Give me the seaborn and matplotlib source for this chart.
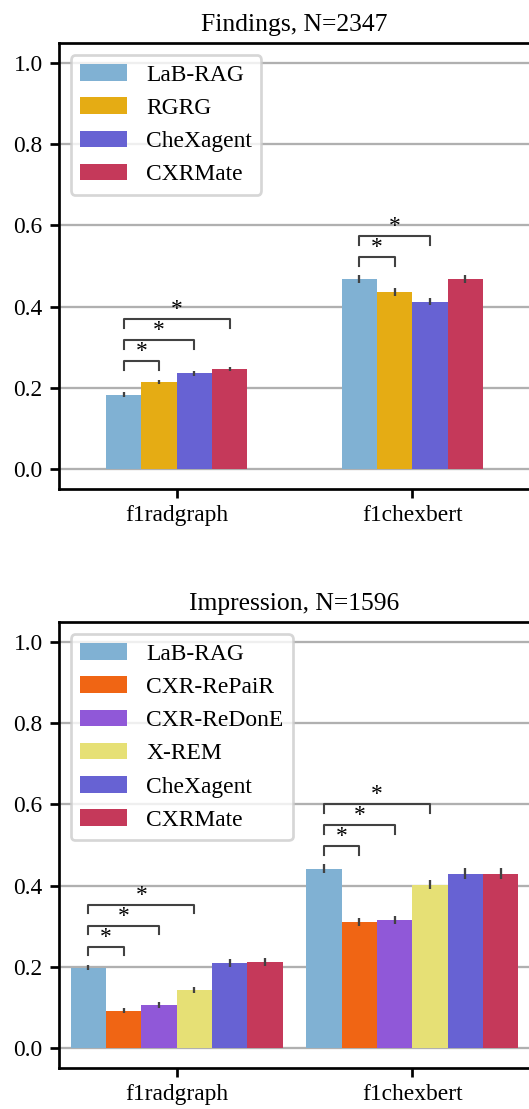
import numpy as np
import pandas as pd
import matplotlib
matplotlib.use("Agg")
import matplotlib.pyplot as plt
import seaborn as sns

# metrics on the x axis
metrics = ["f1radgraph", "f1chexbert"]

# Findings panel
findings_n = 2347
findings_models = ["LaB-RAG", "RGRG", "CheXagent", "CXRMate"]
findings_radgraph = [0.183, 0.215, 0.235, 0.247]
findings_chexbert = [0.467, 0.435, 0.412, 0.469]
findings_radgraph_err = [0.005, 0.005, 0.006, 0.005]
findings_chexbert_err = [0.010, 0.010, 0.009, 0.010]
# models compared against LaB-RAG with a significant difference
findings_sig = {"f1radgraph": ["RGRG", "CheXagent", "CXRMate"],
                "f1chexbert": ["RGRG", "CheXagent"]}

# Impression panel
impression_n = 1596
impression_models = ["LaB-RAG", "CXR-RePaiR", "CXR-ReDonE", "X-REM", "CheXagent", "CXRMate"]
impression_radgraph = [0.197, 0.091, 0.105, 0.142, 0.209, 0.212]
impression_chexbert = [0.441, 0.310, 0.315, 0.402, 0.429, 0.429]
impression_radgraph_err = [0.0065, 0.006, 0.007, 0.007, 0.011, 0.010]
impression_chexbert_err = [0.011, 0.011, 0.011, 0.0115, 0.0135, 0.0135]
impression_sig = {"f1radgraph": ["CXR-RePaiR", "CXR-ReDonE", "X-REM"],
                  "f1chexbert": ["CXR-RePaiR", "CXR-ReDonE", "X-REM"]}

model_colors = {
    "LaB-RAG": "#80b1d3",
    "RGRG": "#e5ac14",
    "CheXagent": "#6762d3",
    "CXRMate": "#c5395a",
    "CXR-RePaiR": "#f06514",
    "CXR-ReDonE": "#9058d8",
    "X-REM": "#e6e075",
}

plt.rcParams["font.family"] = ["Liberation Serif", "DejaVu Serif"]
plt.rcParams["font.size"] = 11.3
plt.rcParams["axes.titlesize"] = 12.3
plt.rcParams["axes.linewidth"] = 1.3
plt.rcParams["xtick.major.width"] = 1.3
plt.rcParams["ytick.major.width"] = 1.3
plt.rcParams["xtick.major.size"] = 4.3
plt.rcParams["ytick.major.size"] = 4.3
plt.rcParams["patch.linewidth"] = 1.3


def draw_panel(ax, title, models, rad, chex, rad_err, chex_err, sig, width):
    df = pd.DataFrame({
        "metric": np.repeat(metrics, len(models)),
        "model": models * 2,
        "score": rad + chex,
    })
    sns.barplot(data=df, x="metric", y="score", hue="model", hue_order=models,
                palette=model_colors, width=width, errorbar=None, saturation=1,
                linewidth=0, ax=ax)
    errs = [rad_err, chex_err]
    vals = [rad, chex]
    centers = {}
    bar_conts = list(ax.containers)
    for i, cont in enumerate(bar_conts):
        xs = [b.get_x() + b.get_width() / 2 for b in cont]
        for j, xc in enumerate(xs):
            centers[(models[i], metrics[j])] = xc
        ax.errorbar(xs, [vals[j][i] for j in range(len(metrics))],
                    yerr=[errs[j][i] for j in range(len(metrics))], fmt="none",
                    ecolor=".26", elinewidth=1.1, capsize=0)

    # significance brackets
    for j, m in enumerate(metrics):
        others = sig[m]
        if not others:
            continue
        ref = models[0]
        k0 = models.index(others[0])
        base = max(vals[j][0] + errs[j][0], vals[j][k0] + errs[j][k0]) + 0.024
        for k, other in enumerate(others):
            y = base + k * 0.052
            x1 = centers[(ref, m)]
            x2 = centers[(other, m)]
            ax.plot([x1, x1, x2, x2], [y, y + 0.021, y + 0.021, y],
                    color=".26", lw=1.0)
            ax.text((x1 + x2) / 2, y + 0.018, "*", ha="center", va="bottom",
                    fontsize=11.3)

    ax.set_ylim(-0.05, 1.05)
    ax.set_xlim(-0.5, 1.5)
    ax.set_yticks([0.0, 0.2, 0.4, 0.6, 0.8, 1.0])
    ax.yaxis.grid(True, color="#b0b0b0", lw=1.1)
    ax.set_axisbelow(True)
    ax.set_xlabel("")
    ax.set_ylabel("")
    ax.set_title(title)
    ax.legend(loc="upper left")


fig = plt.figure(figsize=(529 / 150, 1109 / 150), dpi=150)
ax1 = fig.add_axes([0.1115, 0.5591, 0.8905, 0.4021])
ax2 = fig.add_axes([0.1115, 0.0370, 0.8905, 0.4021])

draw_panel(ax1, f"Findings, N={findings_n}", findings_models,
           findings_radgraph, findings_chexbert,
           findings_radgraph_err, findings_chexbert_err, findings_sig, 0.6)
draw_panel(ax2, f"Impression, N={impression_n}", impression_models,
           impression_radgraph, impression_chexbert,
           impression_radgraph_err, impression_chexbert_err, impression_sig, 0.9)

fig.savefig("out.png", dpi=150)
